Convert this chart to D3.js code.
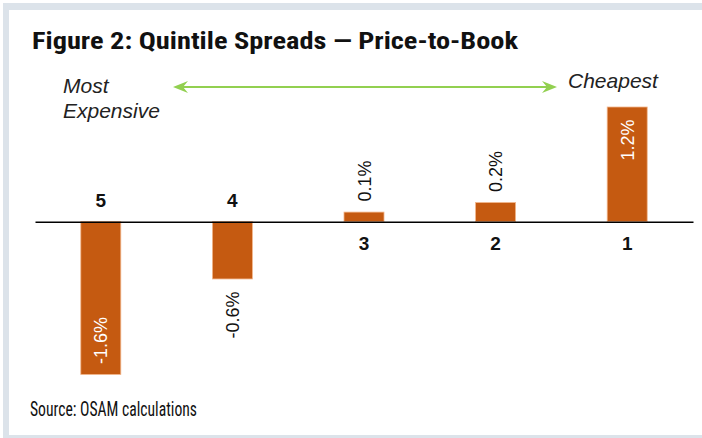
<!DOCTYPE html>
<html><head><meta charset="utf-8">
<script src="https://cdn.jsdelivr.net/npm/d3@7"></script>
<style>
html,body{margin:0;padding:0;background:#fff;}
svg{display:block;}
</style></head>
<body>
<svg id="c" width="702" height="438"></svg>
<script>
const categories = ["5","4","3","2","1"];
const values = [-1.6,-0.6,0.1,0.2,1.2];
const valueLabels = ["-1.6%","-0.6%","0.1%","0.2%","1.2%"];
const titleText = "Figure 2: Quintile Spreads \u2014 Price-to-Book";
const sourceText = "Source: OSAM calculations";

const svg = d3.select("#c");
const frame = "#dce3ea";
svg.append("rect").attr("x",3).attr("y",3).attr("width",699).attr("height",7).attr("fill",frame);
svg.append("rect").attr("x",3).attr("y",3).attr("width",6).attr("height",435).attr("fill",frame);
svg.append("rect").attr("x",3).attr("y",435).attr("width",699).attr("height",3).attr("fill",frame);

const narrow = "'Liberation Sans Narrow','Roboto Condensed','Arial Narrow',sans-serif";
const sans = "'Liberation Sans',Arial,Helvetica,sans-serif";

svg.append("text").attr("x",32).attr("y",49).text(titleText)
  .attr("font-family",narrow).attr("font-weight","bold").attr("font-size",23).attr("fill","#111")
  .attr("textLength",486).attr("lengthAdjust","spacingAndGlyphs");

svg.append("text").attr("x",30).attr("y",416).text(sourceText)
  .attr("font-family",narrow).attr("font-size",21).attr("fill","#111")
  .attr("textLength",167).attr("lengthAdjust","spacingAndGlyphs");

const x = d3.scaleBand().domain(categories).range([35,693]).paddingInner(0.696).paddingOuter(0.348);
const y = d3.scaleLinear().domain([-1.6,1.2]).range([374.5,107]);

const barColor = "#c55a11";
svg.append("g").selectAll("rect").data(values).join("rect")
  .attr("x",(d,i)=>x(categories[i]))
  .attr("width",x.bandwidth())
  .attr("y",d=>Math.min(y(d),y(0)))
  .attr("height",d=>Math.abs(y(d)-y(0)))
  .attr("fill",barColor).attr("stroke","#f2b68c").attr("stroke-width",0.8);

const ax = svg.append("g").attr("transform",`translate(0,${y(0)})`)
  .call(d3.axisBottom(x).tickSize(0).tickSizeOuter(0).tickPadding(0));
ax.select(".domain").attr("stroke","#000").attr("stroke-width",1.5);
ax.selectAll(".tick text")
  .attr("font-family",sans).attr("font-weight","bold")
  .attr("font-size",19).attr("fill","#111")
  .attr("dy",null)
  .attr("y",(d,i)=>values[i]<0 ? -15 : 28);

svg.append("g").selectAll("text").data(values).join("text")
  .attr("transform",(d,i)=>{
    const cx = x(categories[i]) + x.bandwidth()/2;
    let cy;
    if (Math.abs(d) >= 1) cy = y(d) + (d<0 ? -34 : 33);
    else cy = y(d) + (d<0 ? 36 : -31);
    return `translate(${cx+6.5},${cy}) rotate(-90)`;
  })
  .attr("text-anchor","middle")
  .attr("font-family",sans).attr("font-size",18)
  .attr("fill",d=>Math.abs(d)>=1 ? "#fff" : "#111")
  .text((d,i)=>valueLabels[i]);

svg.append("text").attr("x",63).attr("y",93).text("Most").attr("font-family",sans).attr("font-style","italic").attr("font-size",21).attr("fill","#222");
svg.append("text").attr("x",63).attr("y",118).text("Expensive").attr("font-family",sans).attr("font-style","italic").attr("font-size",21).attr("fill","#222");
svg.append("text").attr("x",568).attr("y",88).text("Cheapest").attr("font-family",sans).attr("font-style","italic").attr("font-size",21).attr("fill","#222");

const green = "#92d050";
const ay = 87, ax1 = 173, ax2 = 557;
svg.append("line").attr("x1",ax1+4).attr("x2",ax2-4).attr("y1",ay).attr("y2",ay).attr("stroke",green).attr("stroke-width",2.2);
svg.append("path").attr("d",`M${ax1},${ay} L${ax1+15},${ay-6} L${ax1+10},${ay} L${ax1+15},${ay+6} Z`).attr("fill",green);
svg.append("path").attr("d",`M${ax2},${ay} L${ax2-15},${ay-6} L${ax2-10},${ay} L${ax2-15},${ay+6} Z`).attr("fill",green);
</script>
</body></html>
